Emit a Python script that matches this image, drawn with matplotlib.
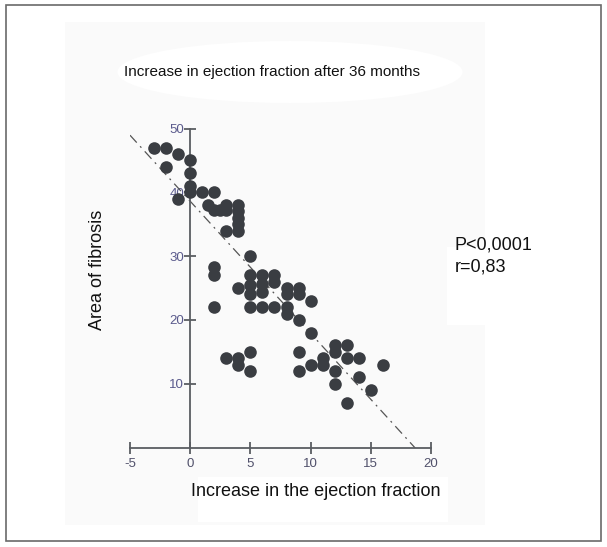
import matplotlib
matplotlib.use("Agg")
import matplotlib.pyplot as plt
from matplotlib.patches import Rectangle, Ellipse
import numpy as np

plt.rcParams['font.family'] = ['Liberation Sans', 'DejaVu Sans']
plt.rcParams['axes.unicode_minus'] = False

# data
ef_increase = [-3, -2, -1, -2, 0, 0, 0, 0, -1, 1, 2,
               1.5, 2, 2.5, 3, 3, 4, 4, 4, 4, 4, 3,
               5, 2, 2, 2, 4,
               5, 5, 5, 5,
               6, 6, 6, 6,
               7, 7, 7,
               8, 8, 8, 8,
               9, 9, 9,
               10, 10,
               3, 4, 4, 5, 5,
               9, 9, 10, 11, 11,
               12, 12, 13, 13, 14, 12, 12, 14, 15, 13, 16]
fibrosis = [47, 47, 46, 44, 45, 43, 41, 40, 39, 40, 40,
            38, 37.3, 37.3, 38, 37.3, 38, 37, 36, 35, 34, 34,
            30, 28.3, 27, 22, 25,
            27, 25.5, 24, 22,
            27, 25.7, 24.3, 22,
            27, 26, 22,
            25, 24, 22, 21,
            25, 24, 20,
            23, 18,
            14, 14, 13, 15, 12,
            15, 12, 13, 14, 13,
            16, 15, 16, 14, 14, 12, 10, 11, 9, 7, 13]
x_ticks = [-5, 0, 5, 10, 15, 20]
y_ticks = [10, 20, 30, 40, 50]
fit_slope = -2.07
fit_intercept = 38.6
fit_range = [-5, 18.7]

title = "Increase in ejection fraction after 36 months"
x_label = "Increase in the ejection fraction"
y_label = "Area of fibrosis"
stats_text = "P<0,0001\nr=0,83"

W, H = 607, 547
fig = plt.figure(figsize=(W / 100, H / 100), dpi=100)
fig.patch.set_facecolor('white')


def fx(px):
    return px / W


def fy(py):
    return 1 - py / H


# page background pieces (drawn under the axes)
bg = [
    Rectangle((fx(65), fy(525)), fx(485) - fx(65), fy(22) - fy(525),
              facecolor='#fafafa', edgecolor='none'),
    Ellipse((fx(290), fy(72)), fx(345), 1 - fy(62),
            facecolor='white', edgecolor='none'),
    Rectangle((fx(447), fy(325)), fx(98), 1 - fy(78),
              facecolor='white', edgecolor='none'),
    Rectangle((fx(198), fy(522)), fx(250), 1 - fy(45),
              facecolor='white', edgecolor='none'),
    Rectangle((fx(6), fy(541)), fx(601) - fx(6), fy(5) - fy(541),
              fill=False, edgecolor='#6a6a6a', linewidth=1.2),
]
for p in bg:
    p.set_transform(fig.transFigure)
    p.set_zorder(-5)
    fig.patches.append(p)

ax = fig.add_axes([fx(130), fy(447.5), (431 - 130) / W, (447.5 - 128.5) / H])
ax.patch.set_alpha(0)
ax.set_xlim(-5, 20)
ax.set_ylim(0, 50)

axis_color = '#5a5d62'
for side in ['top', 'right']:
    ax.spines[side].set_visible(False)
ax.spines['left'].set_position(('data', 0))
ax.spines['left'].set_bounds(0, 50)
for side in ['left', 'bottom']:
    ax.spines[side].set_color(axis_color)
    ax.spines[side].set_linewidth(1.3)

ax.set_xticks(x_ticks)
ax.set_yticks(y_ticks)
ax.tick_params(direction='inout', length=9, width=1.3, color=axis_color,
               labelsize=9.5)
ax.tick_params(axis='y', pad=0, labelcolor='#5a5a8c')
ax.tick_params(axis='x', pad=3, labelcolor='#50506a')

ax.scatter(ef_increase, fibrosis, s=82, color='#3a3d42', linewidths=0,
           zorder=3, clip_on=False)

fit_x = np.array(fit_range)
ax.plot(fit_x, fit_intercept + fit_slope * fit_x, color='#555555',
        linewidth=0.9, linestyle=(0, (8, 4, 1.5, 4)), zorder=2)

fig.text(fx(272), fy(72), title, ha='center', va='center', fontsize=11,
         color='#111111')
fig.text(fx(316), fy(491), x_label, ha='center', va='center', fontsize=13,
         color='#111111')
fig.text(fx(98), fy(270), y_label, ha='center', va='center', rotation=90,
         fontsize=13, color='#111111')
fig.text(fx(455), fy(272), stats_text, ha='left', va='baseline',
         fontsize=13, color='#111111', linespacing=1.45)

fig.savefig('out.png', dpi=100)
